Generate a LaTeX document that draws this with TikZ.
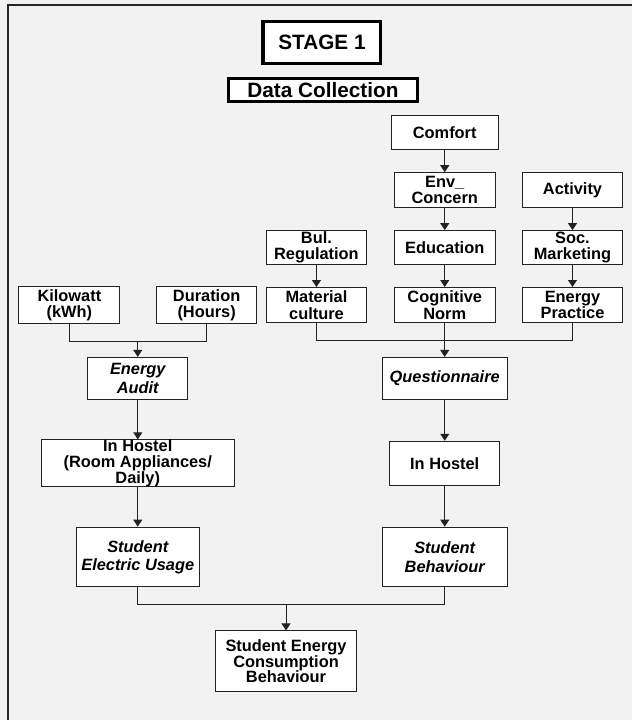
\documentclass[tikz,border=0pt]{standalone}
\usepackage{fontspec}
\setmainfont{Liberation Sans}
\usetikzlibrary{arrows.meta}
\definecolor{bgc}{HTML}{F2F2F2}
\definecolor{linec}{HTML}{222222}
\begin{document}
\begin{tikzpicture}[x=0.5pt,y=-0.5pt,
  box/.style 2 args={draw=linec,line width=0.5pt,fill=white,inner sep=0pt,
    minimum width=#1*0.5pt,minimum height=#2*0.5pt,align=center,
    font=\fontsize{8.2}{8.2}\selectfont\bfseries},
  ibox/.style 2 args={box={#1}{#2},font=\fontsize{8.2}{9.2}\selectfont\bfseries\itshape},
  tbox/.style 2 args={draw=black,line width=1.6pt,fill=white,inner sep=0pt,
    minimum width=#1*0.5pt,minimum height=#2*0.5pt,align=center,
    font=\fontsize{10.4}{12}\selectfont\bfseries},
  conn/.style={draw=linec,line width=0.5pt},
  arr/.style={conn,-{Triangle[length=3.5pt,width=4.5pt]}}]
\path[fill=bgc] (0,0) rectangle (633,721);
\draw[line width=1.25pt,draw=black!85] (8,721) -- (8,5) -- (633,5);
% titles
\node[tbox={118}{42}] (stage) at (322.5,42.5) {STAGE 1};
\node[tbox={190}{23}] (dc) at (323.5,90.5) {Data Collection};
% top boxes
\node[box={107}{34}] (comfort) at (445.5,133) {Comfort};
\node[box={101}{35}] (env) at (445.5,190.5) {Env\_\\Concern};
\node[box={101}{35}] (act) at (573.5,190.5) {Activity};
\node[box={100}{34}] (bul) at (317,248) {Bul.\\Regulation};
\node[box={101}{34}] (edu) at (445.5,248) {Education};
\node[box={101}{34}] (soc) at (573.5,248) {Soc.\\Marketing};
\node[box={100}{35}] (mc) at (317,305.5) {Material\\culture};
\node[box={101}{35}] (cn) at (445.5,305.5) {Cognitive\\Norm};
\node[box={101}{35}] (ep) at (573.5,305.5) {Energy\\Practice};
\node[box={101}{37}] (kw) at (69.5,305.5) {Kilowatt\\(kWh)};
\node[box={100}{37}] (dur) at (207,305.5) {Duration\\(Hours)};
% middle
\node[ibox={100}{42}] (ea) at (138,379) {Energy\\Audit};
\node[ibox={125}{42}] (q) at (445.5,379) {Questionnaire};
\node[box={193}{44},font=\fontsize{8.2}{7.9}\selectfont\bfseries] (ihl) at (138,464) {In Hostel\\(Room Appliances/\\Daily)};
\node[box={110}{44}] (ihr) at (445.5,464) {In Hostel};
\node[ibox={123}{60}] (seu) at (138,558) {Student\\Electric Usage};
\node[ibox={125}{60}] (sb) at (445.5,558) {Student\\Behaviour};
\node[box={141}{61},font=\fontsize{8.2}{7.9}\selectfont\bfseries] (secb) at (286.5,662.5) {Student Energy\\Consumption\\Behaviour};
% junctions
\coordinate (j1) at (138,342);
\coordinate (j2) at (445.5,341);
\coordinate (j3) at (286.5,606);
% connectors
\draw[arr] (comfort) -- (env);
\draw[arr] (env) -- (edu);
\draw[arr] (edu) -- (cn);
\draw[arr] (act) -- (soc);
\draw[arr] (soc) -- (ep);
\draw[arr] (bul) -- (mc);
\draw[conn] (kw.south) |- (j1) -| (dur.south);
\draw[arr] (j1) -- (ea.north);
\draw[conn] (mc.south) |- (j2) -| (ep.south);
\draw[arr] (cn.south) -- (q.north);
\draw[arr] (ea) -- (ihl);
\draw[arr] (ihl) -- (seu);
\draw[arr] (q) -- (ihr);
\draw[arr] (ihr) -- (sb);
\draw[conn] (seu.south) |- (j3) -| (sb.south);
\draw[arr] (j3) -- (secb.north);
\end{tikzpicture}
\end{document}
